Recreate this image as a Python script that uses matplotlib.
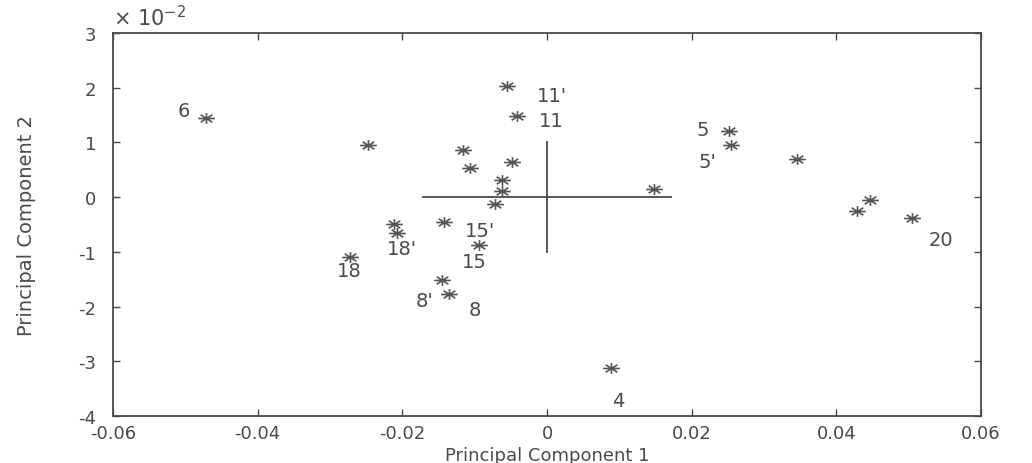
import numpy as np
import matplotlib
matplotlib.use("Agg")
import matplotlib.pyplot as plt
from matplotlib.path import Path
from matplotlib.ticker import FuncFormatter

# scores on the first two principal components
pc1 = [-0.0471, -0.0247, -0.0055, -0.0041, -0.0116, -0.0106, -0.0048, -0.0062,
       -0.0062, -0.0072, -0.0211, -0.0208, -0.0143, -0.0094, -0.0272, -0.0145,
       -0.0135, 0.0148, 0.0252, 0.0254, 0.0346, 0.0447, 0.0428, 0.0504, 0.0088]
pc2 = [0.0145, 0.0095, 0.0204, 0.0149, 0.0087, 0.0053, 0.0065, 0.0031,
       0.0011, -0.0013, -0.0049, -0.0066, -0.0045, -0.0087, -0.0109, -0.0152,
       -0.0177, 0.0015, 0.0120, 0.0096, 0.0069, -0.0005, -0.0025, -0.0038, -0.0313]
point_labels = ["6", "", "11'", "11", "", "", "", "", "", "", "", "18'", "15'",
                "15", "18", "8'", "8", "", "5", "5'", "", "", "", "20", "4"]

# cross through the origin
cross_x = [-0.0172, 0.0172]
cross_y = [-0.010, 0.010]

xticks = [-0.06, -0.04, -0.02, 0, 0.02, 0.04, 0.06]
yticks = [-0.04, -0.03, -0.02, -0.01, 0, 0.01, 0.02, 0.03]

# where each label sits relative to its point (pixels, right / down)
label_offsets = {
    "6": (-23, -7), "11'": (45, 10), "11": (34, 5), "15'": (36, 9),
    "15": (-5, 17), "18'": (5, 15), "18": (-1, 14), "8'": (-18, 20),
    "8": (25, 16), "5": (-27, -2), "5'": (-23, 17), "20": (29, 22),
    "4": (8, 32),
}

ink = "#4a4a4a"

# asterisk a bit wider than tall, like the scanned MATLAB marker
verts = [(-1, 0), (1, 0), (0, -0.65), (0, 0.65),
         (-0.7, -0.45), (0.7, 0.45), (-0.7, 0.45), (0.7, -0.45)]
codes = [Path.MOVETO, Path.LINETO] * 4
star = Path(verts, codes)

plt.rcParams['font.family'] = ['DejaVu Sans']

fig = plt.figure(figsize=(10.32, 4.64), dpi=100)
ax = fig.add_axes([0.1095, 0.1013, 0.8411, 0.8254])

ax.plot(cross_x, [0, 0], color=ink, lw=1.3)
ax.plot([0, 0], cross_y, color=ink, lw=1.3)
ax.plot(pc1, pc2, linestyle="none", marker=star, markersize=12,
        markeredgewidth=1.2, color="#555555")

for x, y, lab in zip(pc1, pc2, point_labels):
    if not lab:
        continue
    dx, dy = label_offsets[lab]
    ax.annotate(lab, (x, y), xytext=(dx, -dy), textcoords="offset pixels",
                ha="center", va="center", fontsize=14, color=ink)

ax.set_xlim(-0.06, 0.06)
ax.set_ylim(-0.04, 0.03)
ax.set_xticks(xticks)
ax.set_yticks(yticks)
ax.xaxis.set_major_formatter(FuncFormatter(lambda v, p: "0" if abs(v) < 1e-9 else "%g" % v))
ax.yaxis.set_major_formatter(FuncFormatter(lambda v, p: "%d" % round(v * 100)))
ax.tick_params(direction="in", length=5, width=1, colors=ink, labelsize=13,
               top=True, right=True)
ax.tick_params(axis="x", pad=6)
ax.tick_params(axis="y", pad=12)
for s in ax.spines.values():
    s.set_color(ink)
    s.set_linewidth(1.3)

ax.text(0.0, 1.01, r"$\times$ 10$^{-2}$", transform=ax.transAxes, ha="left",
        va="bottom", fontsize=15, color=ink)

ax.set_xlabel("Principal Component 1", fontsize=13, color=ink)
ax.xaxis.set_label_coords(0.5, -0.078)
ax.set_ylabel("Principal Component 2", fontsize=14, color=ink)
ax.yaxis.set_label_coords(-0.089, 0.5)

fig.savefig("out.png", dpi=100, facecolor="white")
